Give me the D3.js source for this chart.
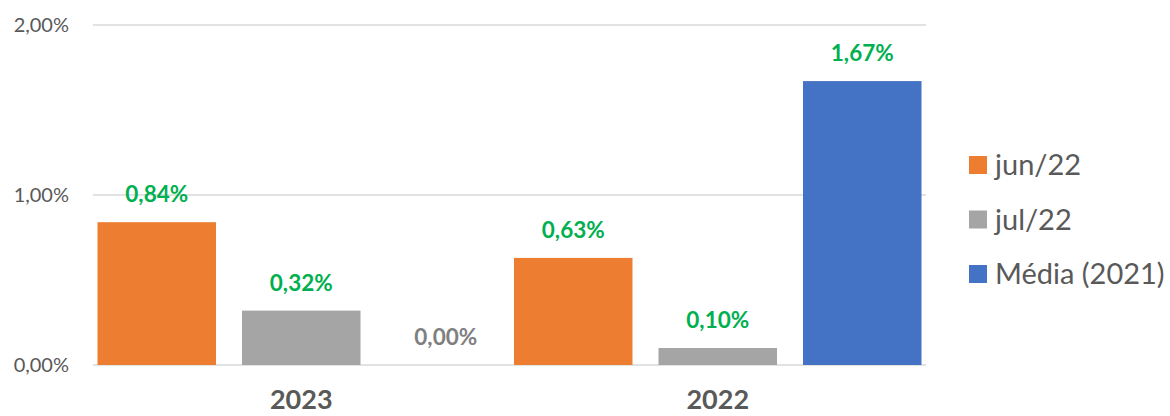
<!DOCTYPE html>
<html>
<head>
<meta charset="utf-8">
<script src="https://cdn.jsdelivr.net/npm/d3@7"></script>
<style>
  body { margin: 0; background: #fff; }
  svg { font-family: Lato, "Open Sans", sans-serif; }
</style>
</head>
<body>
<div id="grafico"></div>
<script>
// dados do gráfico
const categorias = ["2023", "2022"];
const series = ["jun/22", "jul/22", "Média (2021)"];
const cores = ["#ED7D31", "#A5A5A5", "#4472C4"];
const valores = [
  [0.84, 0.32, 0.00],   // 2023
  [0.63, 0.10, 1.67]    // 2022
];
const ticksY = [0, 1, 2];

const W = 1170, H = 416;
const margin = { top: 25, right: 244, bottom: 51, left: 93 };
const width = W - margin.left - margin.right;
const height = H - margin.top - margin.bottom;

const fmt = v => v.toFixed(2).replace(".", ",") + "%";

const svg = d3.select("#grafico").append("svg")
  .attr("width", W).attr("height", H);
const g = svg.append("g").attr("transform", `translate(${margin.left},${margin.top})`);

const x0 = d3.scaleBand().domain(categorias).range([0, width]).paddingInner(0).paddingOuter(0);
const x1 = d3.scaleBand().domain(series).range([4.5, x0.bandwidth() - 4.5]).paddingInner(0.18).paddingOuter(0);
const y = d3.scaleLinear().domain([0, 2]).range([height, 0]);

// linhas de grade
g.selectAll(".grade").data(ticksY).enter().append("line")
  .attr("x1", 0).attr("x2", width)
  .attr("y1", d => y(d)).attr("y2", d => y(d))
  .attr("stroke", "#D9D9D9").attr("stroke-width", 1.3);

// eixo y
const eixoY = g.append("g").call(d3.axisLeft(y).tickValues(ticksY).tickFormat(fmt).tickSize(0).tickPadding(24));
eixoY.select(".domain").remove();
eixoY.selectAll("text").attr("font-size", 20).attr("fill", "#595959").attr("font-family", "Lato, sans-serif");

// barras
const grupos = g.selectAll(".grupo").data(categorias).enter().append("g")
  .attr("transform", d => `translate(${x0(d)},0)`);

grupos.each(function (cat, ci) {
  const grp = d3.select(this);
  series.forEach((s, si) => {
    const v = valores[ci][si];
    grp.append("rect")
      .attr("x", x1(s)).attr("width", x1.bandwidth())
      .attr("y", y(v)).attr("height", y(0) - y(v))
      .attr("fill", cores[si]);
    grp.append("text")
      .attr("x", x1(s) + x1.bandwidth() / 2)
      .attr("y", y(v) - 20)
      .attr("text-anchor", "middle")
      .attr("font-size", 22.5).attr("font-weight", "bold")
      .attr("fill", v === 0 ? "#7F7F7F" : "#00B050")
      .text(fmt(v));
  });
});

// eixo x
const eixoX = g.append("g").attr("transform", `translate(0,${height})`)
  .call(d3.axisBottom(x0).tickSize(0).tickPadding(25));
eixoX.select(".domain").remove();
eixoX.selectAll("text").attr("font-size", 27).attr("font-weight", "bold")
  .attr("fill", "#595959").attr("font-family", "Lato, sans-serif");

// legenda
const leg = svg.append("g").attr("transform", "translate(969,165)");
series.forEach((s, i) => {
  const item = leg.append("g").attr("transform", `translate(0,${i * 54.5})`);
  item.append("rect").attr("x", 0).attr("y", -9).attr("width", 18).attr("height", 18).attr("fill", cores[i]);
  item.append("text").attr("x", 26).attr("y", 0).attr("dy", "0.35em")
    .attr("font-size", 29).attr("fill", "#595959").text(s);
});
</script>
</body>
</html>
